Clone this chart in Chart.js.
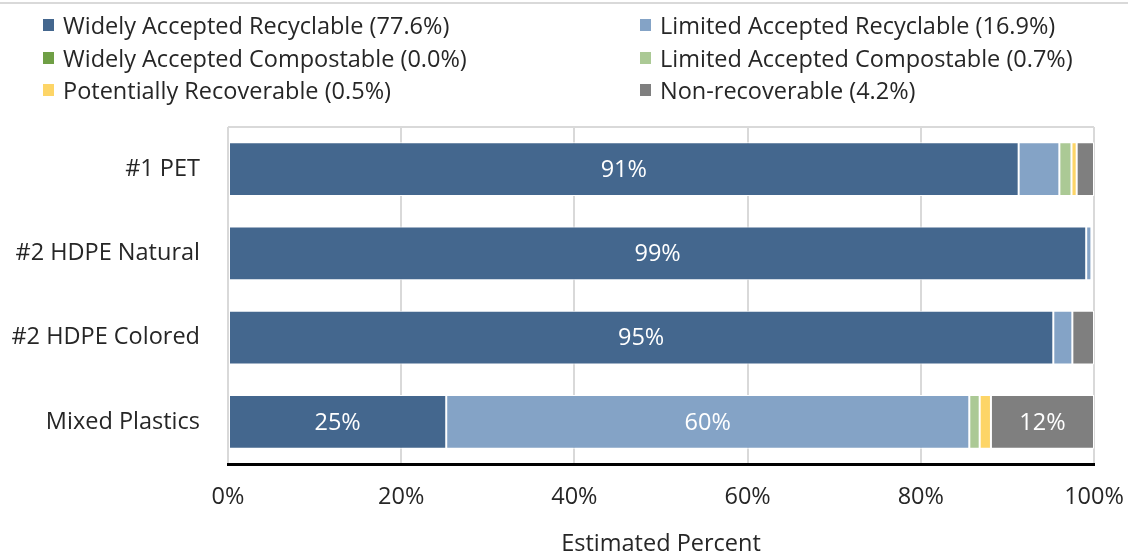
<!DOCTYPE html>
<html>
<head>
<meta charset="utf-8">
<script src="https://cdn.jsdelivr.net/npm/chart.js@4.4.1/dist/chart.umd.min.js"></script>
<style>
  html, body { margin: 0; padding: 0; background: #fff; }
  #wrap { position: relative; width: 1128px; height: 556px; overflow: hidden; font-family: 'Open Sans', sans-serif; }
  #topRule { position: absolute; left: 0; top: 2px; width: 1128px; height: 2px; background: #d9d9d9; }
  #legend { position: absolute; left: 0; top: 0; width: 1128px; height: 110px; }
  .item { position: absolute; display: flex; align-items: center; font-size: 23.5px; color: #262626; white-space: nowrap; height: 28px; }
  .swatch { width: 11px; height: 12px; margin-right: 9px; }
  #chartCanvas { position: absolute; left: 0; top: 0; }
</style>
</head>
<body>
<div id="wrap">
  <div id="topRule"></div>
  <canvas id="chartCanvas" width="1128" height="556"></canvas>
  <div id="legend"></div>
</div>
<script>
// Resin categories (top to bottom)
const categories = ['#1 PET', '#2 HDPE Natural', '#2 HDPE Colored', 'Mixed Plastics'];

// Share of each resin by recovery class, percent
const widelyRecyclable = [91.3, 99.1, 95.3, 25.2];
const limitedRecyclable = [4.7, 0.6, 2.2, 60.4];
const widelyCompostable = [0, 0, 0, 0];
const limitedCompostable = [1.4, 0, 0, 1.2];
const potentiallyRecoverable = [0.6, 0, 0, 1.3];
const nonRecoverable = [2.0, 0, 2.5, 11.9];

const seriesNames = [
  'Widely Accepted Recyclable (77.6%)',
  'Limited Accepted Recyclable (16.9%)',
  'Widely Accepted Compostable (0.0%)',
  'Limited Accepted Compostable (0.7%)',
  'Potentially Recoverable (0.5%)',
  'Non-recoverable (4.2%)'
];
const seriesColors = ['#44678e', '#84a3c6', '#6f9f45', '#abc995', '#fdd567', '#7f7f7f'];

const xTicks = [0, 20, 40, 60, 80, 100];

const seriesValues = [widelyRecyclable, limitedRecyclable, widelyCompostable,
  limitedCompostable, potentiallyRecoverable, nonRecoverable];

const FONT = "'Open Sans'";
const FONT_SIZE = 23.5;
Chart.defaults.font.family = FONT;
Chart.defaults.color = '#262626';

// white percent labels inside the wider segments
const segmentLabels = {
  id: 'segmentLabels',
  afterDatasetsDraw(chart) {
    const ctx = chart.ctx;
    ctx.save();
    ctx.fillStyle = '#fff';
    ctx.font = FONT_SIZE + 'px ' + FONT;
    ctx.textAlign = 'center';
    ctx.textBaseline = 'middle';
    chart.data.datasets.forEach((ds, i) => {
      chart.getDatasetMeta(i).data.forEach((bar, j) => {
        const v = ds.data[j];
        if (v >= 10) {
          ctx.fillText(Math.round(v) + '%', (bar.x + bar.base) / 2, bar.y + 1);
        }
      });
    });
    ctx.restore();
  }
};

// light frame line along the top of the plot
const topBorder = {
  id: 'topBorder',
  beforeDatasetsDraw(chart) {
    const { ctx, chartArea } = chart;
    ctx.save();
    ctx.strokeStyle = '#d9d9d9';
    ctx.lineWidth = 2;
    ctx.beginPath();
    ctx.moveTo(chartArea.left, chartArea.top);
    ctx.lineTo(chartArea.right, chartArea.top);
    ctx.stroke();
    ctx.restore();
  }
};

const datasets = seriesNames.map((name, i) => ({
  label: name,
  data: seriesValues[i],
  backgroundColor: seriesColors[i],
  borderColor: '#fff',
  borderWidth: 1,
  borderSkipped: false,
  categoryPercentage: 1,
  barPercentage: 0.64
}));

const ctx = document.getElementById('chartCanvas').getContext('2d');
const myChart = new Chart(ctx, {
  type: 'bar',
  data: { labels: categories, datasets: datasets },
  plugins: [segmentLabels, topBorder],
  options: {
    indexAxis: 'y',
    responsive: false,
    animation: false,
    layout: { padding: { top: 127, right: 34, left: 0, bottom: 0 } },
    plugins: {
      legend: { display: false },
      tooltip: { enabled: false }
    },
    scales: {
      x: {
        stacked: true,
        min: 0,
        max: 100,
        afterBuildTicks: (scale) => { scale.ticks = xTicks.map(v => ({ value: v })); },
        afterFit: (scale) => {
          scale.height = 92;
          scale.paddingLeft = 0;
          scale.paddingRight = 0;
        },
        ticks: {
          callback: (v) => v + '%',
          font: { size: FONT_SIZE },
          padding: 19,
          maxRotation: 0
        },
        grid: { color: '#d9d9d9', lineWidth: 2, drawTicks: false },
        border: { display: true, color: '#000', width: 3 },
        title: {
          display: true,
          text: 'Estimated Percent',
          font: { size: FONT_SIZE, lineHeight: 1 },
          padding: { top: 0, bottom: 0 }
        }
      },
      y: {
        stacked: true,
        afterFit: (scale) => { scale.width = 228; },
        ticks: { font: { size: FONT_SIZE }, padding: 28 },
        grid: { display: false, drawTicks: false },
        border: { display: false }
      }
    }
  }
});

// two-column legend above the plot
const legendBox = document.getElementById('legend');
const colX = [43, 640];
const rowY = [11, 44, 76];
seriesNames.forEach((name, i) => {
  const item = document.createElement('div');
  item.className = 'item';
  item.style.left = colX[i % 2] + 'px';
  item.style.top = rowY[Math.floor(i / 2)] + 'px';
  const sw = document.createElement('span');
  sw.className = 'swatch';
  sw.style.background = seriesColors[i];
  const txt = document.createElement('span');
  txt.textContent = name;
  item.appendChild(sw);
  item.appendChild(txt);
  legendBox.appendChild(item);
});
</script>
</body>
</html>
